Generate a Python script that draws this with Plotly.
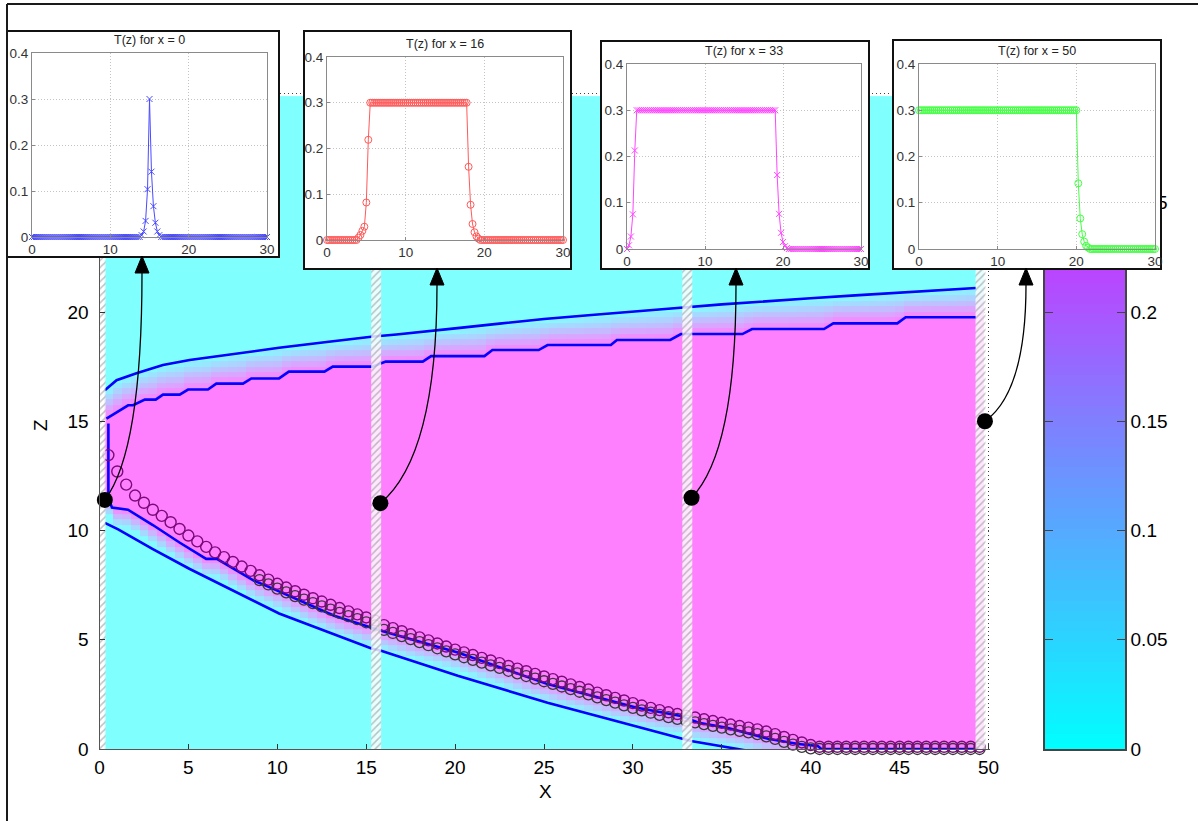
import numpy as np
import plotly.graph_objects as go

W, H = 1198, 821
TMAX = 0.3
FONT = "Liberation Sans, Arial, sans-serif"

# ---------------- main panel data ----------------
upper_outer_x = [0.3, 0.96, 2.08, 3.57, 5.07, 7.88, 10.1, 12.9, 15.28, 16.7, 17.5, 20, 22.5, 25,
                 27.5, 30, 32.5, 35, 37.5, 40, 42.5, 45, 47.5, 49.3]
upper_outer_z = [16.42, 16.88, 17.2, 17.57, 17.8, 18.13, 18.36, 18.64, 18.87, 18.97, 19.03, 19.25,
                 19.47, 19.68, 19.85, 20.0, 20.18, 20.35, 20.5, 20.63, 20.76, 20.88, 21.0, 21.1]

upper_inner_x = [0.39, 1.61, 1.89, 2.55, 3.16, 3.57, 4.51, 4.98, 6.1, 6.57, 8.07, 8.54, 10.1, 10.65,
                 12.65, 13.12, 15.34, 16.1, 18.18, 18.65, 21.65, 22.1, 24.7, 25.2, 28.76, 29.1,
                 32.1, 32.7, 36.16, 36.7, 40.75, 41.27, 44.87, 45.34, 49.3]
upper_inner_z = [15.12, 15.73, 15.73, 15.99, 15.99, 16.22, 16.22, 16.45, 16.45, 16.72, 16.72, 16.96,
                 16.96, 17.27, 17.27, 17.5, 17.5, 17.73, 17.73, 17.98, 17.98, 18.26, 18.26, 18.49,
                 18.49, 18.72, 18.72, 18.99, 18.99, 19.22, 19.22, 19.48, 19.48, 19.76, 19.76]

lower_inner_x = [0.5, 0.5, 0.7, 1.6, 3.0, 4.5, 6.0, 6.6, 8.7, 10.0, 13.2, 15.3, 15.84, 20.15, 25.2,
                 30.17, 32.7, 33.7, 35.3, 37.6, 39.3, 40.4, 40.6, 49.5]
lower_inner_z = [14.9, 11.5, 11.05, 10.95, 10.25, 9.45, 8.7, 8.7, 7.7, 7.25, 6.1, 5.55, 5.41, 4.42,
                 2.97, 1.9, 1.51, 1.2, 0.97, 0.47, 0.23, 0.14, 0.0, 0.0]

lower_outer_x = [0.3, 1.05, 3.0, 5.05, 10.1, 15.3, 15.84, 20.15, 25.2, 30.17, 33.26, 35.9, 40.0, 50.0]
lower_outer_z = [10.35, 10.05, 9.15, 8.25, 6.2, 4.6, 4.5, 3.35, 2.12, 1.06, 0.37, 0.0, -0.6, -2.0]

front_x = [0.5 * i for i in range(1, 100)]          # 0.5 ... 49.5
front_z = [13.45, 12.7, 12.1, 11.6, 11.27, 10.95, 10.67, 10.38, 10.07, 9.77,
           9.5, 9.25, 9.0, 8.78, 8.56, 8.35, 8.15, 7.95, 7.75, 7.56,
           7.39, 7.22, 7.06, 6.9, 6.75, 6.6, 6.45, 6.3, 6.16, 6.02,
           5.88, 5.67, 5.53, 5.39, 5.25, 5.11, 4.97, 4.83, 4.69, 4.55,
           4.42, 4.3, 4.17, 4.05, 3.93, 3.8, 3.68, 3.56, 3.44, 3.32,
           3.2, 3.08, 2.96, 2.84, 2.72, 2.58, 2.46, 2.34, 2.22, 2.1,
           1.99, 1.88, 1.78, 1.68, 1.6, 1.52, 1.44, 1.36, 1.28, 1.2,
           1.12, 1.05, 0.98, 0.9, 0.8, 0.68, 0.55, 0.42, 0.3, 0.18,
           0.1] + [0.1] * 18

exact_x = [9.0 + 0.5 * i for i in range(82)]        # 9.0 ... 49.5
exact_z = [7.73, 7.53, 7.34, 7.17, 7.0, 6.84, 6.68, 6.53, 6.38, 6.23,
           6.08, 5.94, 5.8, 5.66, 5.45, 5.31, 5.17, 5.03, 4.89, 4.75,
           4.61, 4.47, 4.33, 4.2, 4.08, 3.95, 3.83, 3.71, 3.58, 3.46,
           3.34, 3.22, 3.1, 2.98, 2.86, 2.74, 2.62, 2.5, 2.36, 2.24,
           2.12, 2.0, 1.88, 1.77, 1.66, 1.56, 1.46, 1.38, 1.3, 1.22,
           1.14, 1.06, 0.98, 0.9, 0.83, 0.76, 0.68, 0.58, 0.46, 0.33,
           0.2, 0.1, 0.03] + [0.0] * 19

dots_x = [0.3, 15.8, 33.3, 49.8]
dots_z = [11.4, 11.25, 11.5, 15.0]
strip_x = [0.06, 15.56, 33.06, 49.55]

# ---------------- inset profiles T(z) ----------------
prof_z = [0.25 * i for i in range(121)]
prof_x0 = [0.0] * 56 + [0.004, 0.012, 0.035, 0.104, 0.30, 0.142, 0.067, 0.031, 0.012, 0.004] + [0.0] * 55
prof_x16 = [0.0] * 16 + [0.005, 0.011, 0.02, 0.029, 0.082, 0.219] + [0.30] * 50 + \
           [0.16, 0.077, 0.035, 0.017, 0.008, 0.003] + [0.0] * 43
prof_x33 = [0.0, 0.008, 0.027, 0.075, 0.213] + [0.30] * 72 + \
           [0.16, 0.076, 0.035, 0.015, 0.006, 0.002] + [0.0] * 38
prof_x50 = [0.30] * 81 + [0.142, 0.066, 0.032, 0.016, 0.007, 0.003] + [0.0] * 34
inset_titles = ["T(z) for x = 0", "T(z) for x = 16", "T(z) for x = 33", "T(z) for x = 50"]

cbar_ticks = [0, 0.05, 0.1, 0.15, 0.2, 0.25, 0.3]
cbar_text = ["0", "0.05", "0.1", "0.15", "0.2", "0.25", "0.3"]
x_ticks = [0, 5, 10, 15, 20, 25, 30, 35, 40, 45, 50]
z_ticks = [0, 5, 10, 15, 20, 25, 30]

# ---------------- geometry helpers (pixels -> paper) ----------------
def xdom(p0, p1):
    return [p0 / W, p1 / W]

def ydom(top, bottom):
    return [1 - bottom / H, 1 - top / H]

def px(x, y):
    return x / W, 1 - y / H

MX0, MX50 = 99.5, 988.5      # pixel of x=0 and x=50
MY0, MY30 = 749.0, 93.5      # pixel of z=0 and z=30
sx = (MX50 - MX0) / 50.0
sy = (MY0 - MY30) / 30.0
XR = [0, 50.1]
YR = [0, 30.1]
LOWER_RAMP = 0.9             # thickness of the visible gradient under the lower front

def data_to_px(x, z):
    return MX0 + x * sx, MY0 - z * sy

# ---------------- temperature field from the read boundaries ----------------
cell_x = np.arange(0.5, 49.51, 0.5)
z_edges = np.append(np.arange(0, 29.76, 0.25), 29.88)
cell_z = (z_edges[:-1] + z_edges[1:]) / 2
lo = np.interp(cell_x, lower_outer_x, lower_outer_z)
li = np.interp(cell_x, lower_inner_x[1:], lower_inner_z[1:])
ui = np.interp(cell_x, upper_inner_x, upper_inner_z)
uo = np.interp(cell_x, upper_outer_x, upper_outer_z)
ramp_lo = np.maximum(lo, li - LOWER_RAMP)
Zc = cell_z[:, None]
ramp_up = TMAX * (Zc - ramp_lo) / np.maximum(li - ramp_lo, 1e-6)
ramp_dn = TMAX * (uo - Zc) / np.maximum(uo - ui, 1e-6)
T = np.where(Zc < ramp_lo, 0.0,
             np.where(Zc < li, ramp_up,
                      np.where(Zc <= ui, TMAX,
                               np.where(Zc < uo, ramp_dn, 0.0))))
T = np.clip(T, 0, TMAX)

fig = go.Figure()

# main heatmap (cool colormap, half transparent over white)
fig.add_trace(go.Heatmap(x=cell_x, y=z_edges, z=T, zmin=0, zmax=TMAX, showscale=False,
                         colorscale=[[0, "rgb(128,255,255)"], [1, "rgb(255,128,255)"]],
                         hoverinfo="skip", xaxis="x", yaxis="y"))
blue = dict(color="#0000ff", width=2.6)
for xs, zs in [(lower_outer_x, lower_outer_z), (upper_outer_x, upper_outer_z),
               (lower_inner_x, lower_inner_z), (upper_inner_x, upper_inner_z)]:
    fig.add_trace(go.Scatter(x=xs, y=zs, mode="lines", line=blue, xaxis="x", yaxis="y",
                             hoverinfo="skip"))
fig.add_trace(go.Scatter(x=exact_x, y=exact_z, mode="markers", cliponaxis=False,
                         marker=dict(symbol="circle-open", size=11, color="#383838",
                                     line=dict(width=1.3)), xaxis="x", yaxis="y"))
fig.add_trace(go.Scatter(x=front_x, y=front_z, mode="markers", cliponaxis=False,
                         marker=dict(symbol="circle-open", size=11, color="#7a0a7a",
                                     line=dict(width=1.4)), xaxis="x", yaxis="y"))
# hatched strips
sw = 0.56
top = z_edges[-1]
hx, hy = [], []
for c in strip_x:
    hx += [c - sw / 2, c + sw / 2, c + sw / 2, c - sw / 2, c - sw / 2, None]
    hy += [0, 0, top, top, 0, None]
fig.add_trace(go.Scatter(x=hx, y=hy, mode="lines", fill="toself",
                         fillcolor="rgba(255,255,255,0.82)", line=dict(width=0, color="rgba(0,0,0,0)"),
                         fillpattern=dict(shape="/", fgcolor="rgba(120,120,120,0.9)",
                                          bgcolor="rgba(255,255,255,0.82)", size=5, solidity=0.3),
                         xaxis="x", yaxis="y", hoverinfo="skip"))
fig.add_trace(go.Scatter(x=dots_x, y=dots_z, mode="markers", cliponaxis=False,
                         marker=dict(symbol="circle", size=16, color="black"),
                         xaxis="x", yaxis="y"))

# colorbar as its own subplot (x2/y2)
levels = np.linspace(0, TMAX, 65)
fig.add_trace(go.Heatmap(x=[0], y=levels, z=[[v] for v in levels], zmin=0, zmax=TMAX,
                         colorscale=[[0, "rgb(0,255,255)"], [1, "rgb(255,0,255)"]],
                         showscale=False, xaxis="x2", yaxis="y2", hoverinfo="skip"))

# insets: (box px, plot px, profile, color, symbol)
insets = [
    ((8, 32, 278, 256), (32, 53, 267, 237), prof_x0, "#4a4aff", "x-thin-open"),
    ((305, 32, 570, 268), (327, 57, 563, 240), prof_x16, "#ff5a5a", "circle-open"),
    ((602, 42, 868, 268), (627, 64, 861, 249), prof_x33, "#ff45ff", "x-thin-open"),
    ((894, 41, 1160, 268), (919, 64, 1155, 249), prof_x50, "#45ff45", "circle-open"),
]

layout_axes = {}
shapes = []
annotations = []

GRID_MAIN = dict(showgrid=True, gridcolor="rgba(0,0,0,0.75)", griddash="1px,3px", gridwidth=1)
layout_axes["xaxis"] = dict(domain=xdom(MX0, MX0 + XR[1] * sx), range=XR, tickvals=x_ticks,
                            ticktext=[str(v) for v in x_ticks], anchor="y",
                            ticks="inside", ticklen=5, tickcolor="#333", showline=True,
                            linecolor="#555", linewidth=1, zeroline=False,
                            tickfont=dict(size=19, color="black"), ticklabelstandoff=1,
                            **GRID_MAIN)
layout_axes["yaxis"] = dict(domain=ydom(MY0 - YR[1] * sy, MY0), range=YR, tickvals=z_ticks,
                            ticktext=[str(v) for v in z_ticks], anchor="x",
                            ticks="inside", ticklen=5, tickcolor="#333", showline=True,
                            linecolor="#555", linewidth=1, zeroline=False,
                            tickfont=dict(size=19, color="black"), ticklabelstandoff=6,
                            **GRID_MAIN)
layout_axes["xaxis2"] = dict(domain=xdom(1045, 1125), range=[-0.5, 0.5], anchor="y2",
                             showline=True, mirror=True, linecolor="#444", linewidth=1.5,
                             ticks="", showticklabels=False, showgrid=False, zeroline=False)
layout_axes["yaxis2"] = dict(domain=ydom(MY30, MY0), range=[0, TMAX], anchor="x2", side="right",
                             tickvals=cbar_ticks, ticktext=cbar_text, ticks="inside", ticklen=8,
                             tickcolor="#444", showline=True, mirror="ticks", linecolor="#444",
                             linewidth=1.5, showgrid=False, zeroline=False,
                             tickfont=dict(size=19, color="black"), ticklabelstandoff=0)

k = 3
for (box, plot, prof, col, sym), title in zip(insets, inset_titles):
    bx0, by0, bx1, by1 = box
    kb, ki = k, k + 1
    # white framed box subplot
    layout_axes[f"xaxis{kb}"] = dict(domain=xdom(bx0, bx1), range=[0, 1], anchor=f"y{kb}",
                                     showline=True, mirror=True, linecolor="#111", linewidth=2,
                                     ticks="", showticklabels=False, showgrid=False,
                                     zeroline=False, fixedrange=True)
    layout_axes[f"yaxis{kb}"] = dict(domain=ydom(by0, by1), range=[0, 1], anchor=f"x{kb}",
                                     showline=True, mirror=True, linecolor="#111", linewidth=2,
                                     ticks="", showticklabels=False, showgrid=False,
                                     zeroline=False, fixedrange=True)
    fig.add_trace(go.Scatter(x=[0.5], y=[0.5], mode="markers", marker=dict(opacity=0),
                             xaxis=f"x{kb}", yaxis=f"y{kb}", hoverinfo="skip"))
    shapes.append(dict(type="rect", xref=f"x{kb}", yref=f"y{kb}", x0=0, x1=1, y0=0, y1=1,
                       layer="below", fillcolor="white", line=dict(width=0)))
    # profile subplot
    px0, py0, px1, py1 = plot
    common = dict(showline=True, mirror=True, linecolor="#8a8a8a", linewidth=1, ticks="inside",
                  ticklen=3, tickcolor="#8a8a8a", showgrid=True, gridcolor="#c4c4c4",
                  griddash="1px,2px", gridwidth=1, zeroline=False,
                  tickfont=dict(size=13.5, color="#333"))
    layout_axes[f"xaxis{ki}"] = dict(domain=xdom(px0, px1), range=[0, 30], tickvals=[0, 10, 20, 30],
                                     anchor=f"y{ki}", ticklabelstandoff=0, **common)
    layout_axes[f"yaxis{ki}"] = dict(domain=ydom(py0, py1), range=[0, 0.4],
                                     tickvals=[0, 0.1, 0.2, 0.3, 0.4],
                                     ticktext=["0", "0.1", "0.2", "0.3", "0.4"],
                                     anchor=f"x{ki}", ticklabelstandoff=0, **common)
    fig.add_trace(go.Scatter(x=prof_z, y=prof, mode="lines+markers", cliponaxis=False,
                             line=dict(color=col, width=1),
                             marker=dict(symbol=sym, size=6 if "x" in sym else 7, color=col,
                                         line=dict(width=1, color=col)),
                             xaxis=f"x{ki}", yaxis=f"y{ki}", hoverinfo="skip"))
    tx, ty = px((px0 + px1) / 2, py0 - 13)
    annotations.append(dict(text=title, x=tx, y=ty, xref="paper", yref="paper", showarrow=False,
                            xanchor="center", yanchor="middle",
                            font=dict(size=12.5, color="#222", family=FONT)))
    k += 2

# curved arrows from the dots to the insets
tips_px = [(142, 256), (437, 268), (736, 268), (1026, 268)]
for (dx_, dz_), (tx_, ty_) in zip(zip(dots_x, dots_z), tips_px):
    sx0, sy0 = data_to_px(dx_, dz_)
    bx, byb = tx_, ty_ + 17
    c1 = (sx0 + 0.6 * (bx - sx0), sy0 + 0.13 * (byb - sy0))
    c2 = (bx, sy0 + 0.42 * (byb - sy0))
    p0 = px(sx0, sy0); p1 = px(*c1); p2 = px(*c2); p3 = px(bx, byb)
    shapes.append(dict(type="path", xref="paper", yref="paper", layer="above",
                       path=f"M {p0[0]},{p0[1]} C {p1[0]},{p1[1]} {p2[0]},{p2[1]} {p3[0]},{p3[1]}",
                       line=dict(color="black", width=1.3)))
    a = px(tx_, ty_); b1 = px(tx_ - 7, byb); b2 = px(tx_ + 7, byb)
    shapes.append(dict(type="path", xref="paper", yref="paper", layer="above",
                       path=f"M {a[0]},{a[1]} L {b1[0]},{b1[1]} L {b2[0]},{b2[1]} Z",
                       fillcolor="black", line=dict(color="black", width=1)))

# outer figure frame (top and left)
f0 = px(7, 4); f1 = px(1198, 4); f2 = px(7, 821)
shapes.append(dict(type="line", xref="paper", yref="paper", layer="above",
                   x0=f0[0], y0=f0[1], x1=f1[0], y1=f1[1], line=dict(color="#1a1a1a", width=2)))
shapes.append(dict(type="line", xref="paper", yref="paper", layer="above",
                   x0=f0[0], y0=f0[1], x1=f2[0], y1=f2[1], line=dict(color="#1a1a1a", width=2)))

# axis titles
ax_x = px(545, 791)
ax_z = px(40, 425)
annotations.append(dict(text="X", x=ax_x[0], y=ax_x[1], xref="paper", yref="paper",
                        xanchor="center", yanchor="middle",
                        showarrow=False, font=dict(size=19, color="black", family=FONT)))
annotations.append(dict(text="Z", x=ax_z[0], y=ax_z[1], xref="paper", yref="paper",
                        xanchor="center", yanchor="middle",
                        showarrow=False, textangle=-90,
                        font=dict(size=19, color="black", family=FONT)))

fig.update_layout(width=W, height=H,
                  margin=dict(l=0, r=0, t=0, b=0, pad=0, autoexpand=False),
                  paper_bgcolor="white", plot_bgcolor="white", showlegend=False,
                  font=dict(family=FONT, color="black"),
                  shapes=shapes, annotations=annotations, **layout_axes)

fig.write_html("out.html", config={"responsive": False, "displayModeBar": False},
               post_script="document.body.style.margin='0px';document.body.style.padding='0px';"
                           "document.documentElement.style.overflow='hidden';")
